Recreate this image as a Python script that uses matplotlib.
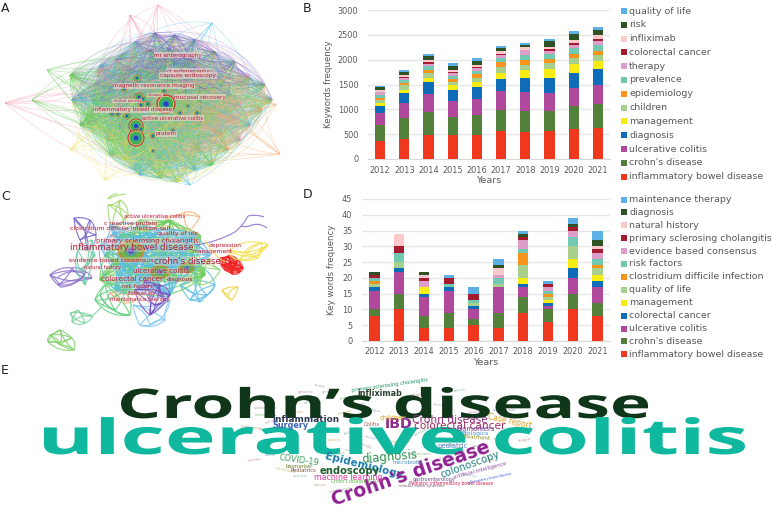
import matplotlib
matplotlib.use('Agg')
import matplotlib.pyplot as plt
import numpy as np
from matplotlib.collections import PathCollection
from matplotlib.patches import Circle, Ellipse, Rectangle
from matplotlib.path import Path
from matplotlib.patheffects import AbstractPathEffect
from matplotlib.textpath import TextPath
from matplotlib.font_manager import FontProperties
from matplotlib.transforms import Affine2D

years = ['2012', '2013', '2014', '2015', '2016', '2017', '2018', '2019', '2020', '2021']

# panel B, keywords frequency
b_labels = ['inflammatory bowel disease', "crohn's disease", 'ulcerative colitis', 'diagnosis',
            'management', 'children', 'epidemiology', 'prevalence', 'therapy',
            'colorectal cancer', 'infliximab', 'risk', 'quality of life']
b_ibd = [370, 405, 490, 475, 490, 555, 540, 555, 610, 620]
b_crohn = [310, 415, 460, 365, 395, 430, 420, 410, 450, 485]
b_uc = [245, 310, 360, 325, 320, 380, 385, 365, 370, 385]
b_diagnosis = [145, 195, 240, 215, 235, 245, 295, 300, 310, 320]
b_management = [55, 70, 90, 110, 110, 125, 160, 185, 175, 165]
b_children = [55, 85, 85, 60, 90, 115, 100, 110, 115, 110]
b_epidemiology = [55, 50, 75, 70, 70, 100, 90, 80, 90, 95]
b_prevalence = [55, 60, 75, 60, 60, 90, 105, 105, 115, 115]
b_therapy = [50, 45, 40, 50, 60, 55, 90, 70, 70, 75]
b_crc = [15, 15, 30, 25, 30, 20, 15, 25, 25, 50]
b_infliximab = [40, 40, 45, 45, 30, 55, 45, 60, 70, 70]
b_risk = [45, 65, 80, 80, 85, 70, 55, 105, 115, 110]
b_qol = [25, 30, 40, 45, 55, 45, 45, 40, 55, 50]
b_series = [b_ibd, b_crohn, b_uc, b_diagnosis, b_management, b_children, b_epidemiology,
            b_prevalence, b_therapy, b_crc, b_infliximab, b_risk, b_qol]

# panel D, key words frequency
d_labels = ['inflammatory bowel disease', "crohn's disease", 'ulcerative colitis', 'colorectal cancer',
            'management', 'quality of life', 'clostridium difficile infection', 'risk factors',
            'evidence based consensus', 'primary sclerosing cholangitis', 'natural history',
            'diagnosis', 'maintenance therapy']
d_ibd = [8, 10, 4, 4, 5, 4, 9, 6, 10, 8]
d_crohn = [2, 5, 4, 5, 2, 5, 5, 4, 5, 4]
d_uc = [6, 7, 6, 7, 3, 8, 3, 1, 5, 5]
d_crc = [1, 1, 1, 1, 1, 0, 1, 1, 3, 2]
d_management = [0, 0, 2, 0, 0, 0, 2, 1, 3, 2]
d_qol = [1, 2, 0, 0, 1, 1, 4, 1, 4, 2]
d_cdi = [1, 0, 0, 0, 0, 0, 4, 1, 0, 1]
d_risk = [1, 3, 0, 1, 1, 2, 1, 1, 3, 2]
d_ebc = [0, 0, 2, 0, 0, 1, 3, 1, 2, 2]
d_psc = [1, 2, 1, 2, 2, 0, 1, 1, 1, 1]
d_history = [0, 4, 1, 0, 0, 2, 0, 0, 0, 1]
d_diagnosis = [1, 0, 1, 0, 0, 1, 1, 0, 1, 2]
d_maintenance = [0, 0, 0, 1, 2, 2, 1, 1, 2, 3]
d_series = [d_ibd, d_crohn, d_uc, d_crc, d_management, d_qol, d_cdi, d_risk, d_ebc, d_psc,
            d_history, d_diagnosis, d_maintenance]

bar_colors = ['#f0381f', '#53803a', '#b0489c', '#0f6cb8', '#f7ec13', '#a8d08d', '#f7941d',
              '#70c9b0', '#dd9fca', '#a51c30', '#fbc8cc', '#2f5225', '#5cb0e6']

# panel A network, nodes in pixels
a_x = [166, 136, 136, 137, 124, 139, 143, 141, 148, 118, 112, 127, 141, 153, 164, 180, 197, 173, 153,
       188, 120, 105, 92, 85, 110, 130, 150, 175, 200, 222, 238, 222, 200, 175, 150, 120, 100, 145,
       165, 185, 205, 128, 170, 190, 215, 235, 160, 135, 110, 180,
       70, 78, 88, 98, 108, 125, 140, 160, 178, 195, 212, 228, 240, 250, 262, 272, 265, 250, 235, 215,
       195, 175, 155, 135, 115, 95, 80, 72, 160, 120, 200, 230, 100, 145, 185]
a_y = [104, 126, 138, 78, 89, 97, 99, 105, 104, 114, 114, 116, 129, 136, 91, 113, 113, 131, 151,
       120, 75, 85, 100, 120, 135, 155, 165, 160, 150, 135, 105, 80, 70, 62, 50, 55, 65, 68,
       75, 85, 90, 145, 50, 60, 110, 120, 175, 170, 155, 140,
       75, 95, 115, 70, 140, 160, 175, 178, 182, 170, 165, 150, 140, 125, 110, 100, 85, 78, 62, 52,
       40, 35, 33, 42, 60, 85, 125, 100, 120, 128, 125, 95, 100, 120, 100]
a_group = [0, 1, 0, 0, 1, 0, 2, 1, 0, 0, 1, 0, 1, 0, 2, 0, 1, 0, 3,
           2, 0, 1, 0, 0, 3, 1, 0, 2, 4, 5, 4, 6, 6, 6, 6, 2, 1, 6,
           6, 2, 6, 0, 6, 6, 5, 4, 3, 1, 0, 2,
           0, 1, 0, 4, 0, 3, 1, 0, 3, 1, 0, 5, 4, 1, 5, 6, 6, 6, 6, 6,
           6, 6, 6, 1, 4, 0, 0, 1, 0, 1, 0, 1, 0, 0, 2]
a_out_x = [158, 212, 5, 280, 70, 105, 47, 276, 250, 130, 190, 32]
a_out_y = [5, 23, 103, 154, 150, 180, 70, 105, 75, 15, 185, 100]
a_out_group = [4, 1, 4, 5, 3, 3, 0, 5, 4, 4, 1, 0]
a_hub_x = [166, 136, 136, 137, 124, 139, 143, 141, 148, 118, 112, 127, 141, 153, 164, 180, 197, 173, 153, 188]
a_hub_y = [104, 126, 138, 78, 89, 97, 99, 105, 104, 114, 114, 116, 129, 136, 91, 113, 113, 131, 151, 106]
a_hub_r = [9.5, 7.5, 8.5, 3.5, 3, 4.5, 3, 3, 3, 2.5, 2.5, 3.5, 3, 2.8, 2.5, 2.5, 2.5, 2.5, 2, 2]
a_words = ['mr enterography', 'ct enterography', 'capsule endoscopy', 'magnetic resonance imaging',
           'disease', 'mucosal recovery', 'clinical activity', 'inflammatory bowel disease',
           'active ulcerative colitis', 'protein']
a_word_x = [178, 188, 188, 154, 155, 200, 127, 133, 173, 166]
a_word_y = [55, 71, 75.5, 86, 95, 97, 101, 110, 118, 134]
a_word_w = [47, 42, 55, 81, 14, 50, 28, 78, 60, 20]

# panel C network, one list of nodes per cluster
c_cluster_x = [[220, 228, 238, 243, 232, 225, 236, 222, 230, 240],
               [228, 245, 258, 268, 262, 240],
               [222, 228, 238, 232],
               [108, 112, 124, 120, 128],
               [50, 58, 86, 92, 72],
               [70, 78, 93, 85, 72],
               [50, 60, 72, 74, 60, 48],
               [110, 120, 140, 133, 114],
               [74, 80, 90, 96, 88],
               [133, 140, 165, 170, 150],
               [78, 88, 92, 80, 95, 85],
               [180, 190, 200, 207, 215, 195],
               [165, 185, 200, 190],
               [120, 110, 145, 175, 145],
               [180, 200, 220, 210, 190],
               [120, 160, 200, 130, 185, 150, 105, 135, 165, 195, 100, 125, 150, 180, 205, 115, 140, 170],
               [110, 130, 160, 190, 120, 150, 180, 210, 140, 170, 100, 195, 125, 155, 115],
               [135, 155, 170, 150, 165, 145, 160],
               [95, 115, 105, 125, 100, 130]]
c_cluster_y = [[258, 256, 260, 268, 274, 270, 265, 265, 262, 272],
               [251, 256, 258, 245, 243, 260],
               [290, 295, 287, 300],
               [205, 228, 220, 200, 215],
               [275, 285, 272, 278, 268],
               [313, 310, 316, 323, 322],
               [335, 330, 338, 350, 345, 342],
               [293, 290, 293, 302, 298],
               [218, 240, 220, 235, 250],
               [305, 325, 320, 300, 325],
               [250, 265, 240, 270, 255, 285],
               [285, 300, 302, 295, 285, 265],
               [218, 212, 217, 230],
               [260, 235, 225, 230, 240],
               [272, 285, 270, 258, 265],
               [235, 240, 235, 270, 265, 285, 255, 250, 255, 250, 280, 290, 270, 280, 275, 265, 220, 220],
               [225, 240, 230, 240, 260, 250, 265, 255, 290, 295, 245, 235, 280, 270, 290],
               [290, 305, 295, 315, 300, 280, 285],
               [300, 310, 285, 290, 295, 315]]
c_cluster_color = ['#ee2222', '#f4e04a', '#f2d040', '#9ed86a', '#8a6ccc', '#7fd0a0', '#86d070', '#f7b27a',
                   '#6a5fc8', '#7fc8f0', '#6fcfa8', '#63bfe6', '#f8b27a', '#f8a27a', '#8ed66e', '#6fd060',
                   '#5cbde6', '#7a4fc0', '#5fd080']
c_out_x = [235, 248, 264, 241, 252, 267, 118, 108, 126, 93, 110, 50, 60, 85, 57, 195, 225, 205]
c_out_y = [232, 216, 217, 226, 225, 228, 194, 199, 194, 315, 292, 275, 287, 274, 278, 245, 262, 240]
c_link_pairs = [(0, 1), (1, 2), (3, 4), (4, 5), (6, 7), (7, 8), (9, 10), (11, 12), (12, 13), (14, 13),
                (15, 0), (16, 17)]
c_link_color = ['#8a6ccc', '#8a6ccc', '#8a6ccc', '#8a6ccc', '#9ed86a', '#9ed86a', '#7fd0a0', '#8a6ccc',
                '#8a6ccc', '#8a6ccc', '#8a6ccc', '#f4e04a']
c_hub_x = [131, 160, 187]
c_hub_y = [251, 272, 268]
c_hub_w = [27, 20, 15]
c_hub_h = [22, 14, 11]
c_words = ['active ulcerative colitis', 'c reactive protein', 'clostridium difficile infection', 'cell',
           'quality of life', 'primary sclerosing cholangitis', 'inflammatory bowel disease', 'depression',
           'management', 'evidence based consensus', "crohn's disease", 'natural history', 'ulcerative colitis',
           'colorectal cancer', 'diagnosis', 'risk factors', 'follow up', 'maintenance therapy']
c_word_x = [155, 131, 114, 165, 178, 147, 132, 225, 213, 111, 187, 103, 161, 132, 180, 137, 141, 140]
c_word_y = [217, 223, 229, 228, 234, 241, 247, 246, 252, 260, 261, 268, 271, 279, 279, 286, 293, 300]
c_word_w = [60, 52, 86, 10, 40, 103, 122, 32, 40, 84, 66, 36, 56, 62, 26, 30, 26, 58]

# panel E word cloud
e_words = ['inflammation', 'Surgery', 'IBD', 'Crohn disease', 'colorectal cancer', 'Case report', 'children',
           'biomarkers', 'Biologics', 'Treatment', 'pediatric', 'COVID-19', 'Epidemiology', 'diagnosis',
           'endoscopy', 'colonoscopy', "Crohn's disease", 'artificial intelligence', 'biomarker', 'Pediatrics',
           'machine learning', "Crohn's disease (CD)", 'gastroenterology', 'Pediatric inflammatory bowel disease',
           'irritable bowel syndrome', 'microbiota', 'primary sclerosing cholangitis', 'infliximab', 'Colitis',
           'inflammatory bowel disease']
e_x = [306, 290, 399, 450, 460, 510, 393, 476, 475, 476, 453, 299, 364, 390, 350, 470, 411, 480, 299, 303,
       348, 354, 434, 451, 422, 407, 390, 380, 372, 490]
e_y = [419, 425, 424, 420, 426, 421, 418, 429, 433, 437, 446, 460, 466, 457, 471, 465, 474, 470, 466, 471,
       477, 482, 479, 483, 486, 462, 385, 393, 425, 478]
e_w = [65, 35, 26, 74, 90, 43, 26, 38, 26, 28, 29, 39, 76, 54, 60, 58, 156, 52, 27, 25,
       67, 47, 42, 84, 45, 29, 76, 44, 16, 45]
e_rot = [0, 0, 0, 0, 0, -12, 0, 0, 0, -4, 0, -8, -14, 5, 0, 20, 19, 15, 0, 0,
         0, 0, 0, 0, 0, 0, 8, 0, 0, 12]
e_bold = ['IBD', "Crohn's disease", 'Epidemiology', 'endoscopy', 'infliximab', 'inflammation', 'Surgery']
e_color = ['#2f3a56', '#3f63b8', '#8c2a8c', '#8e2f7e', '#a02a5e', '#d8a020', '#d8a020', '#7a3f98', '#3f8fd0',
           '#8f9420', '#4f7fc0', '#3f9f5f', '#1f7fb0', '#2f8f4f', '#1f5f2f', '#1f7f7f', '#8f2090', '#8f50a0',
           '#707f30', '#705040', '#e03fa0', '#60b040', '#705090', '#d02050', '#706070', '#5090c0', '#20905f',
           '#2f3f30', '#a06060', '#3f60d0']
e_fill_words = ['therapy', 'colitis', 'microbiome', 'nutrition', 'cancer', 'vedolizumab', 'ustekinumab', 'fistula',
                'genetics', 'stoma', 'anxiety', 'fatigue']
e_fill_x = [262, 270, 282, 296, 310, 252, 266, 290, 305, 320, 335, 350, 365, 318, 335, 352, 370, 400, 425, 450,
            330, 345, 360, 375, 345, 360, 420, 440, 460, 480, 505, 520, 440, 460, 480, 500, 255, 270, 285, 300,
            320, 340, 420, 445, 470, 490, 510, 525]
e_fill_y = [415, 422, 430, 412, 402, 428, 408, 398, 392, 386, 440, 432, 446, 445, 455, 450, 438, 442, 430, 445,
            392, 398, 404, 410, 412, 418, 395, 405, 390, 412, 410, 430, 438, 452, 446, 440, 460, 455, 470, 476,
            485, 490, 454, 458, 475, 460, 450, 440]
e_fill_rot = [0, 12, -15, 0, 10, -8, 0, 15, 0, -10, 0, 20, -20, 0, 12, 0, -15, 0, 25, 0,
              0, 10, 0, -12, 15, 0, 0, -10, 8, 0, 0, 12, 0, 15, 0, -8, 10, 0, -12, 0,
              0, 10, 0, 8, -10, 15, 0, 10]
e_fill_color = ['#8fbf8f', '#c9a0c0', '#a0b0d0', '#d0c080', '#90c0b0', '#c0a090', '#b0b0b0']

a_palette = ['#6fd060', '#55bfe8', '#7fd39a', '#f5e45a', '#f59ab0', '#f8ac70', '#6a50cc']


class Stretch(AbstractPathEffect):
    # text stays real text, the glyph outlines just get scaled before they are placed
    def __init__(self, sx, sy=1.0):
        super().__init__()
        self.sx = sx
        self.sy = sy

    def draw_path(self, renderer, gc, tpath, affine, rgbFace=None):
        renderer.draw_path(gc, tpath, Affine2D().scale(self.sx, self.sy) + affine, rgbFace)


def curve_paths(xs, ys, pairs, bend=0.22):
    paths = []
    for n, (i, j) in enumerate(pairs):
        dx = xs[j] - xs[i]
        dy = ys[j] - ys[i]
        b = bend * (0.5 + 0.25 * (n % 5))
        sign = 1 if n % 2 == 0 else -1
        cx = (xs[i] + xs[j]) / 2 - dy * b * sign
        cy = (ys[i] + ys[j]) / 2 + dx * b * sign
        paths.append(Path([(xs[i], ys[i]), (cx, cy), (xs[j], ys[j])],
                          [Path.MOVETO, Path.CURVE3, Path.CURVE3]))
    return paths


def add_curves(ax, paths, colors, lw, alpha, zorder=2):
    coll = PathCollection(paths, facecolors='none', edgecolors=colors, linewidths=lw, alpha=alpha, zorder=zorder)
    ax.add_collection(coll)


def size_for_width(text, width_px, weight='normal'):
    ext = TextPath((0, 0), text, size=10, prop=FontProperties(family='DejaVu Sans', weight=weight)).get_extents()
    return 10 * width_px / ext.width * 0.72


def big_word(ax, text, x0, x1, baseline, size, weight, color, zorder):
    # squeeze or widen the word so it runs from x0 to x1 at the given font size
    prop = FontProperties(family='Open Sans', weight=weight, size=size)
    ext = TextPath((0, 0), text, size=size, prop=prop).get_extents()
    sx = (x1 - x0) / (ext.width * 100 / 72)
    t = ax.text(x0 - ext.x0 * sx * 100 / 72, baseline, text, fontproperties=prop, color=color,
                ha='left', va='baseline', zorder=zorder)
    t.set_path_effects([Stretch(sx)])


def stacked(ax, series, labels, top, step, ylabel, ylabel_pad, xtick_pad, xlabel_pad, legend_y0, legend_dy):
    x = np.arange(len(years))
    bottom = np.zeros(len(years))
    for vals, col in zip(series, bar_colors):
        ax.bar(x, vals, 0.42, bottom=bottom, color=col, zorder=3)
        bottom = bottom + np.array(vals)
    ax.set_xticks(x, years)
    ax.set_xlim(-0.5, len(years) - 0.5)
    ax.set_ylim(0, top)
    ax.set_yticks(np.arange(0, top + 1, step))
    ax.grid(axis='y', color='#e6e6e6', lw=1, zorder=0)
    ax.tick_params(length=0, labelsize=5.9, labelcolor='#595959')
    ax.tick_params(axis='x', pad=xtick_pad)
    ax.tick_params(axis='y', pad=7)
    for s in ax.spines.values():
        s.set_visible(False)
    ax.spines['bottom'].set_visible(True)
    ax.spines['bottom'].set_color('#d9d9d9')
    ax.set_xlabel('Years', fontsize=6.8, color='#595959', labelpad=xlabel_pad)
    ax.set_ylabel(ylabel, fontsize=6.2, color='#595959', labelpad=ylabel_pad)
    # legend rows are put on by hand so the spacing follows the figure
    for n, (lab, col) in enumerate(zip(labels[::-1], bar_colors[::-1])):
        y = legend_y0 + n * legend_dy
        bg.add_patch(Rectangle((621, y - 3), 6, 6, fc=col, ec='none'))
        bg.text(629, y, lab, fontsize=6.8, color='#595959', va='center', ha='left')


W, H = 772, 507
fig = plt.figure(figsize=(W / 100, H / 100), dpi=100)
bg = fig.add_axes([0, 0, 1, 1])
bg.set_xlim(0, W)
bg.set_ylim(H, 0)
bg.axis('off')

# A
a_n = len(a_x)
core_pairs = [(i, j) for i in range(a_n) for j in range(i + 1, a_n)]
# purple only in the top of the hairball, below that it is mostly green
core_colors = [a_palette[0] if a_group[i] == 6 and (a_y[i] + a_y[j]) / 2 > 82 else a_palette[a_group[i]]
               for i, j in core_pairs]
add_curves(bg, curve_paths(a_x, a_y, core_pairs), core_colors, 0.35, 0.38)
all_x = a_x + a_out_x
all_y = a_y + a_out_y
out_pairs = [(a_n + k, i) for k in range(len(a_out_x)) for i in range(a_n) if i % 9 == k % 9]
out_colors = [a_palette[a_out_group[p[0] - a_n]] for p in out_pairs]
add_curves(bg, curve_paths(all_x, all_y, out_pairs, 0.16), out_colors, 0.5, 0.4)
a_rings = [(1, '#c8352b'), (0.86, '#f2d8b0'), (0.78, '#3fae4a'), (0.42, '#35a0b0'), (0.28, '#2c3fc0')]
for x, y, r in zip(a_hub_x, a_hub_y, a_hub_r):
    for frac, col in a_rings:
        bg.add_patch(Circle((x, y), r * frac, fc=col, ec='none', zorder=5))
for s, x, y, w in zip(a_words, a_word_x, a_word_y, a_word_w):
    bg.text(x, y, s, fontsize=size_for_width(s, w), color='#b5203c', ha='center', va='center', zorder=6,
            bbox=dict(boxstyle='square,pad=0.1', fc='#f6dada', ec='none', alpha=0.6))

# C
for cx, cy, col in zip(c_cluster_x, c_cluster_y, c_cluster_color):
    pairs = [(i, j) for i in range(len(cx)) for j in range(i + 1, len(cx))]
    add_curves(bg, curve_paths(cx, cy, pairs, 0.2), [col] * len(pairs), 0.9, 0.8)
add_curves(bg, curve_paths(c_out_x, c_out_y, c_link_pairs, 0.2), c_link_color, 0.9, 0.8)
c_rings = [(1, '#c98a3a'), (0.85, '#6fb04a'), (0.45, '#4f9fa0'), (0.25, '#5a50c0')]
for x, y, w, h in zip(c_hub_x, c_hub_y, c_hub_w, c_hub_h):
    for frac, col in c_rings:
        bg.add_patch(Ellipse((x, y), w * frac, h * frac, fc=col, ec='none', zorder=5))
for s, x, y, w in zip(c_words, c_word_x, c_word_y, c_word_w):
    bg.text(x, y, s, fontsize=size_for_width(s, w), color='#b5203c', ha='center', va='center', zorder=6,
            bbox=dict(boxstyle='square,pad=0.05', fc='#f8dede', ec='none', alpha=0.3))

# E, small words first so the big ones sit on top
for n, (x, y, rot) in enumerate(zip(e_fill_x, e_fill_y, e_fill_rot)):
    bg.text(x, y, e_fill_words[n % len(e_fill_words)], fontsize=2.6, rotation=rot, ha='center', va='center',
            color=e_fill_color[n % len(e_fill_color)], zorder=3, rotation_mode='anchor')
big_word(bg, 'Crohn\u2019s disease', 121, 648, 418, 29.5, 'bold', '#10361a', 5)
big_word(bg, 'ulcerative colitis', 44, 745, 454, 35, 'bold', '#0fb89e', 6)
for s, x, y, w, rot, col in zip(e_words, e_x, e_y, e_w, e_rot, e_color):
    weight = 'bold' if s in e_bold else 'normal'
    bg.text(x, y, s, fontsize=size_for_width(s, w / np.cos(np.radians(rot)), weight), rotation=rot,
            rotation_mode='anchor', ha='center', va='center', color=col, zorder=7, fontweight=weight)

for s, x, y in [('A', 1, 8), ('B', 303, 8), ('C', 1, 196), ('D', 303, 195), ('E', 1, 370)]:
    bg.text(x, y, s, fontsize=9, color='#222222', ha='left', va='center', zorder=8)

# charts B and D
ax_b = fig.add_axes([368 / W, 1 - 159 / H, 242 / W, 149 / H])
ax_b.patch.set_alpha(0)
stacked(ax_b, b_series, b_labels, 3000, 500, 'Keywords frequency', 3, 5, 1, 11, 13.8)
ax_d = fig.add_axes([362 / W, 1 - 341 / H, 248 / W, 142 / H])
ax_d.patch.set_alpha(0)
stacked(ax_d, d_series, d_labels, 45, 5, 'Key words frequency', 4, 4, 2, 199.5, 12.9)

fig.savefig('out.png', dpi=100)
